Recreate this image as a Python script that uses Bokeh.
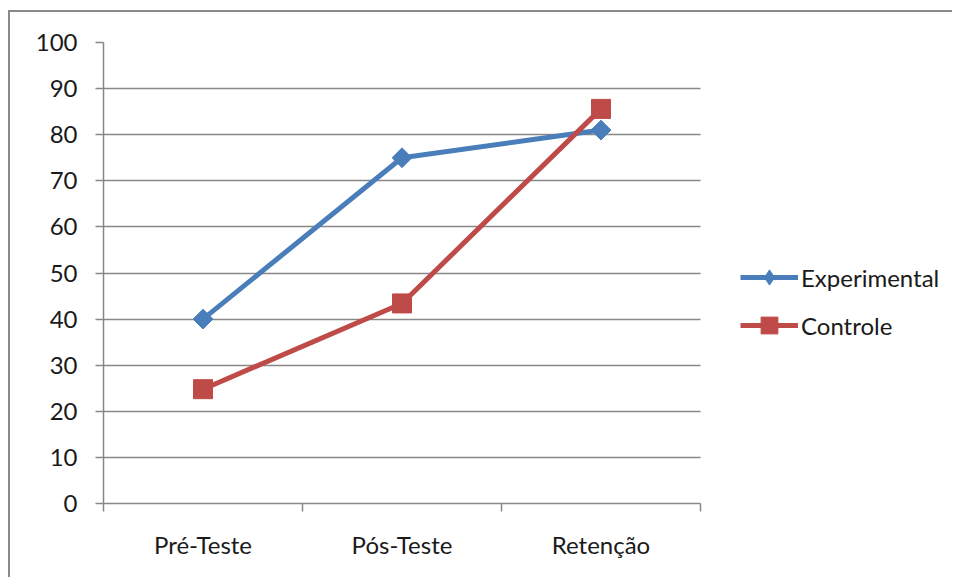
import math
from bokeh.plotting import figure
from bokeh.models import FixedTicker, Legend, LegendItem
from bokeh.embed import file_html
from bokeh.resources import INLINE

categories = ["Pré-Teste", "Pós-Teste", "Retenção"]
series_names = ["Experimental", "Controle"]
experimental = [40, 75, 81]
controle = [24.8, 43.4, 85.6]
y_ticks = [0, 10, 20, 30, 40, 50, 60, 70, 80, 90, 100]

FONT = "Lato"
FSIZE = "24px"
GRID = "#888888"
TEXT = "#1a1a1a"
BLUE = "#4a7ebb"
RED = "#be4b48"

n = len(categories)
x = [i + 0.5 for i in range(n)]
bounds = [i for i in range(n + 1)]

# layout: plot area 597px wide, frame extended to the right to host the legend
PLOT_W, FRAME_W = 597, 851
x_end = n * FRAME_W / PLOT_W

p = figure(width=944, height=567, x_range=(0, x_end), y_range=(0, 100),
           output_backend="svg", toolbar_location=None,
           min_border_left=93, min_border_top=30, min_border_right=0, min_border_bottom=76)
p.styles = {"margin-left": "8px", "margin-top": "10px",
            "border-top": "2px solid #8a8a8a", "border-left": "2px solid #8a8a8a"}
p.outline_line_color = None
p.background_fill_color = "white"
p.border_fill_color = "white"

p.xgrid.visible = False
p.ygrid.grid_line_color = GRID
p.ygrid.grid_line_width = 1.5
p.ygrid.ticker = FixedTicker(ticks=y_ticks)
p.ygrid.cross_bounds = (0, n)

xa = p.xaxis[0]
xa.bounds = (0, n)
xa.ticker = FixedTicker(ticks=x, minor_ticks=bounds)
xa.major_label_overrides = {x[i]: categories[i] for i in range(n)}
xa.major_tick_line_color = None
xa.major_tick_out = 0
xa.major_tick_in = 0
xa.minor_tick_out = 8
xa.minor_tick_in = 0
xa.minor_tick_line_color = GRID
xa.minor_tick_line_width = 1.5
xa.axis_line_color = GRID
xa.axis_line_width = 1.5
xa.major_label_standoff = 18
xa.major_label_text_font = FONT
xa.major_label_text_font_size = FSIZE
xa.major_label_text_color = TEXT

ya = p.yaxis[0]
ya.ticker = FixedTicker(ticks=y_ticks)
ya.major_tick_out = 8
ya.major_tick_in = 0
ya.major_tick_line_color = GRID
ya.major_tick_line_width = 1.5
ya.minor_tick_line_color = None
ya.axis_line_color = GRID
ya.axis_line_width = 1.5
ya.major_label_standoff = 18
ya.major_label_text_font = FONT
ya.major_label_text_font_size = FSIZE
ya.major_label_text_color = TEXT

l1 = p.line(x, experimental, line_color=BLUE, line_width=5)
s1 = p.scatter(x, experimental, marker="square", angle=math.pi / 4, size=14,
               fill_color=BLUE, line_color=BLUE)
l2 = p.line(x, controle, line_color=RED, line_width=5)
s2 = p.scatter(x, controle, marker="square", size=19, fill_color=RED, line_color=RED)

# legend-only sample marker (diamond), nothing drawn in the plot area
s1_key = p.scatter([math.nan], [math.nan], marker="diamond",
                   fill_color=BLUE, line_color=BLUE)

common = dict(border_line_color=None, background_fill_alpha=0, glyph_width=58,
              label_standoff=3, label_height=30, label_text_font=FONT,
              label_text_font_size=FSIZE, label_text_color=TEXT, margin=0, padding=0)
leg1 = Legend(items=[LegendItem(label=series_names[0], renderers=[l1, s1_key])],
              location=(637, 207), glyph_height=38, **common)
leg2 = Legend(items=[LegendItem(label=series_names[1], renderers=[l2, s2])],
              location=(637, 157), glyph_height=42, **common)
p.add_layout(leg1)
p.add_layout(leg2)

open("out.html", "w").write(file_html(p, INLINE))
